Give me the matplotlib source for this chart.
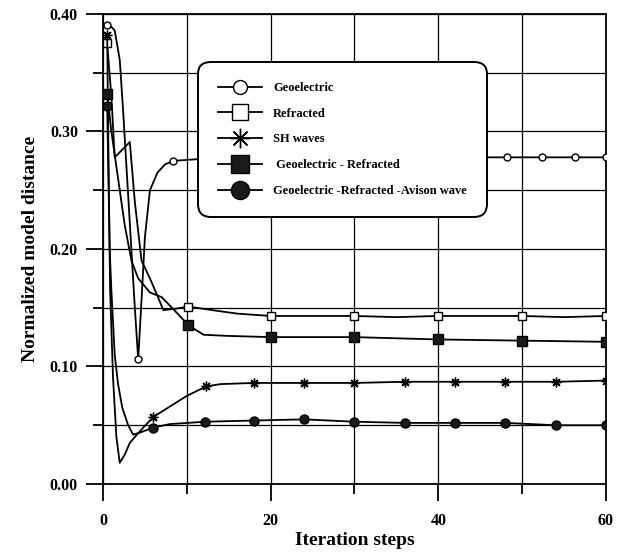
import matplotlib
matplotlib.use("Agg")
from matplotlib import pyplot as plt
from matplotlib.ticker import FixedLocator

plt.rcParams['font.family'] = ['Liberation Serif', 'DejaVu Serif']
plt.rcParams['font.weight'] = 'bold'

# Geoelectric (open circles)
geo_x = [0.5, 1.0, 1.4, 2.0, 2.4, 3.3, 3.8, 4.2, 4.6, 5.0, 5.6, 6.5, 7.4, 8.4,
         12.4, 16.4, 20.4, 24.4, 28.3, 32.3, 36.3, 40.3, 44.2, 48.2, 52.4, 56.3, 60]
geo_y = [0.391, 0.389, 0.386, 0.361, 0.318, 0.21, 0.15, 0.106, 0.157, 0.21, 0.25, 0.265, 0.272, 0.275,
         0.277, 0.278, 0.278, 0.278, 0.278, 0.278, 0.278, 0.278, 0.278, 0.278, 0.278, 0.278, 0.278]
geo_marks = [0.5, 4.2, 8.4, 12.4, 16.4, 20.4, 24.4, 28.3, 32.3, 36.3, 40.3, 44.2, 48.2, 52.4, 56.3, 60]

# Refracted (open squares)
ref_x = [0.5, 1.0, 1.4, 3.2, 3.8, 4.6, 5.6, 6.5, 7.2, 8.5, 10.2, 13, 16, 20, 25, 30, 35, 40, 45, 50, 55, 60]
ref_y = [0.375, 0.33, 0.278, 0.291, 0.24, 0.19, 0.175, 0.16, 0.148, 0.149, 0.151, 0.148, 0.145, 0.143,
         0.143, 0.143, 0.142, 0.143, 0.143, 0.143, 0.142, 0.143]
ref_marks = [0.5, 10.2, 20, 30, 40, 50, 60]

# SH waves (asterisks)
sh_x = [0.5, 0.7, 0.85, 1.2, 1.6, 2.0, 2.6, 3.2, 3.8, 4.8, 6.0, 8, 10, 12.3, 14, 18, 24, 30, 36, 42, 48, 54, 60]
sh_y = [0.382, 0.25, 0.165, 0.09, 0.04, 0.018, 0.025, 0.035, 0.04, 0.048, 0.057, 0.066, 0.075, 0.083,
        0.085, 0.086, 0.086, 0.086, 0.087, 0.087, 0.087, 0.087, 0.088]
sh_marks = [0.5, 6.0, 12.3, 18, 24, 30, 36, 42, 48, 54, 60]

# Geoelectric - Refracted (filled squares)
gr_x = [0.5, 1.0, 1.8, 2.6, 3.4, 4.2, 5.6, 7.0, 8.5, 10.2, 12, 15, 20, 30, 40, 50, 60]
gr_y = [0.332, 0.30, 0.26, 0.22, 0.19, 0.175, 0.163, 0.159, 0.148, 0.135, 0.127, 0.126, 0.125,
        0.125, 0.123, 0.122, 0.121]
gr_marks = [0.5, 10.2, 20, 30, 40, 50, 60]

# Geoelectric - Refracted - Avison wave (filled circles)
av_x = [0.5, 0.8, 1.0, 1.4, 1.8, 2.3, 3.0, 3.6, 4.5, 6.0, 8, 12.2, 18, 24, 30, 36, 42, 48, 54, 60]
av_y = [0.322, 0.2, 0.165, 0.11, 0.085, 0.065, 0.05, 0.042, 0.044, 0.048, 0.051, 0.053, 0.054,
        0.055, 0.053, 0.052, 0.052, 0.052, 0.050, 0.050]
av_marks = [0.5, 6.0, 12.2, 18, 24, 30, 36, 42, 48, 54, 60]

labels = ['Geoelectric', 'Refracted', 'SH waves', ' Geoelectric - Refracted',
          'Geoelectric -Refracted -Avison wave']

x_major = [0, 20, 40, 60]
x_minor = [10, 30, 50]
y_major = [0.0, 0.1, 0.2, 0.3, 0.4]
y_minor = [0.05, 0.15, 0.25, 0.35]
y_ticklabels = ['0.00', '0.10', '0.20', '0.30', '0.40']

fig = plt.figure(figsize=(6.23, 5.53), dpi=100)
ax = fig.add_axes([0.1653, 0.1248, 0.8074, 0.8499])

def idx(xs, marks):
    return [xs.index(m) for m in marks]

lw = 1.3
ax.plot(geo_x, geo_y, color='black', lw=lw, marker='o', ms=5, mfc='white', mec='black', mew=1.0,
        markevery=idx(geo_x, geo_marks), label=labels[0], zorder=3)
ax.plot(ref_x, ref_y, color='black', lw=lw, marker='s', ms=6, mfc='white', mec='black', mew=1.0,
        markevery=idx(ref_x, ref_marks), label=labels[1], zorder=3)
ax.plot(sh_x, sh_y, color='black', lw=lw, marker=(8, 2, 0), ms=7, mec='black', mew=1.0,
        markevery=idx(sh_x, sh_marks), label=labels[2], zorder=3)
ax.plot(gr_x, gr_y, color='black', lw=lw, marker='s', ms=6.5, mfc='#1a1a1a', mec='black',
        markevery=idx(gr_x, gr_marks), label=labels[3], zorder=3)
ax.plot(av_x, av_y, color='black', lw=lw, marker='o', ms=6.5, mfc='#1a1a1a', mec='black',
        markevery=idx(av_x, av_marks), label=labels[4], zorder=3)

ax.set_xlim(0, 60)
ax.set_ylim(0, 0.40)
ax.xaxis.set_major_locator(FixedLocator(x_major))
ax.xaxis.set_minor_locator(FixedLocator(x_minor))
ax.yaxis.set_major_locator(FixedLocator(y_major))
ax.yaxis.set_minor_locator(FixedLocator(y_minor))
ax.set_yticklabels(y_ticklabels)
ax.set_xticklabels([str(v) for v in x_major])
ax.grid(True, which='both', color='black', lw=0.9)
ax.set_axisbelow(True)
ax.tick_params(which='major', direction='out', length=12, width=1.3, labelsize=11.5, pad=6)
ax.tick_params(which='minor', direction='out', length=7, width=1.3)
ax.tick_params(axis='x', which='major', pad=9)
for s in ax.spines.values():
    s.set_linewidth(1.3)

ax.set_xlabel('Iteration steps', fontsize=14, fontweight='bold', labelpad=2)
ax.set_ylabel('Normalized model distance', fontsize=14, fontweight='bold', labelpad=8)

leg = ax.legend(loc='upper left', bbox_to_anchor=(0.189, 0.898), borderaxespad=0,
                fontsize=9, markerscale=2.0, handlelength=3.5, handletextpad=0.9,
                labelspacing=1.1, borderpad=1.6, fancybox=True, framealpha=1,
                edgecolor='black')
leg.get_frame().set_linewidth(1.4)
leg.get_frame().set_boxstyle('round', pad=0.0, rounding_size=1.0)
for t in leg.get_texts():
    t.set_fontweight('bold')
leg.set_zorder(5)

fig.savefig('out.png', dpi=100)
